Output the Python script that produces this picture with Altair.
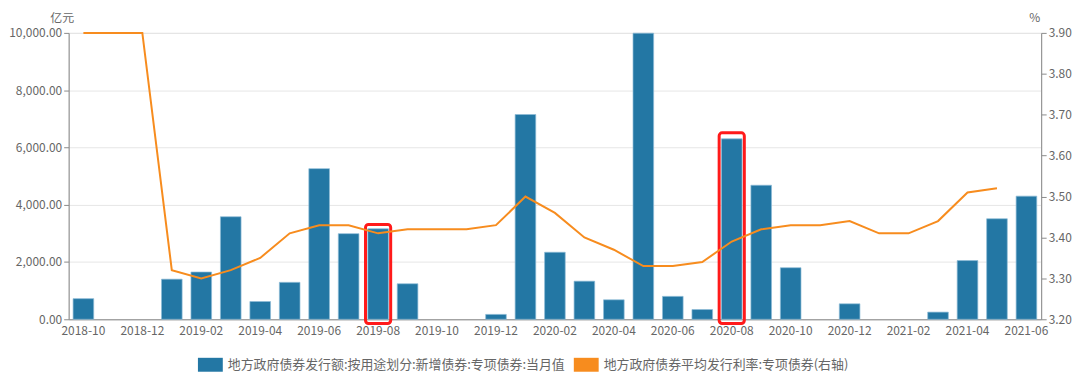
import altair as alt
import pandas as pd

months = ["2018-10", "2018-11", "2018-12", "2019-01", "2019-02", "2019-03", "2019-04",
          "2019-05", "2019-06", "2019-07", "2019-08", "2019-09", "2019-10", "2019-11",
          "2019-12", "2020-01", "2020-02", "2020-03", "2020-04", "2020-05", "2020-06",
          "2020-07", "2020-08", "2020-09", "2020-10", "2020-11", "2020-12", "2021-01",
          "2021-02", "2021-03", "2021-04", "2021-05", "2021-06"]
issuance = [720, 0, 0, 1400, 1650, 3580, 620, 1290, 5260, 2990, 3160, 1240, 0, 0,
            170, 7150, 2340, 1330, 680, 9990, 800, 340, 6300, 4680, 1800, 0, 540, 0,
            0, 250, 2050, 3510, 4300]
rate = [3.90, 3.90, 3.90, 3.32, 3.30, 3.32, 3.35, 3.41, 3.43, 3.43, 3.41, 3.42, 3.42, 3.42,
        3.43, 3.50, 3.46, 3.40, 3.37, 3.33, 3.33, 3.34, 3.39, 3.42, 3.43, 3.43, 3.44, 3.41,
        3.41, 3.44, 3.51, 3.52, None]
x_tick_labels = months[::2]
left_ticks = [0, 2000, 4000, 6000, 8000, 10000]
right_ticks = [3.2, 3.3, 3.4, 3.5, 3.6, 3.7, 3.8, 3.9]

series_names = ["地方政府债券发行额:按用途划分:新增债券:专项债券:当月值",
                "地方政府债券平均发行利率:专项债券(右轴)"]
series_colors = ["#2377a4", "#f78c1e"]

highlight_months = ["2019-08", "2020-08"]
highlight_top = [3310, 6510]
highlight_low = [-150, -150]

FONT = "Noto Sans CJK SC"
AXIS_GRAY = "#8a8a8a"
TEXT_GRAY = "#666666"

df = pd.DataFrame({"month": months, "issuance": issuance, "rate": rate})
df["s1"] = series_names[0]
df["s2"] = series_names[1]
df_box = pd.DataFrame({"month": highlight_months, "issuance": highlight_top, "low": highlight_low})

x_enc = alt.X(
    "month:O",
    scale=alt.Scale(domain=months, paddingInner=0.3, paddingOuter=0.15),
    axis=alt.Axis(values=x_tick_labels, labelAngle=0, title=None, ticks=False,
                  domainColor=AXIS_GRAY, labelColor=TEXT_GRAY, labelFontSize=12,
                  labelPadding=6, labelFont=FONT),
)

color_scale = alt.Scale(domain=series_names, range=series_colors)
legend = alt.Legend(
    title=None, orient="none", direction="horizontal", legendX=130, legendY=321,
    symbolType="M-1,-0.56L1,-0.56L1,0.56L-1,0.56Z", symbolSize=625,
    symbolStrokeWidth=0, symbolOpacity=1, labelFontSize=13, labelFont=FONT,
    labelColor=TEXT_GRAY, labelLimit=1000, columnPadding=8, labelOffset=5,
)

bars = alt.Chart(df).transform_filter("datum.issuance > 0").mark_bar(
    stroke="#8dbbd6", strokeWidth=1, strokeOpacity=0.7
).encode(
    x=x_enc,
    y=alt.Y("issuance:Q",
            scale=alt.Scale(domain=[0, 10000], nice=False, zero=True),
            axis=alt.Axis(values=left_ticks, format=",.2f", title="亿元", titleAngle=0,
                          titleX=-7, titleY=-8, titleAlign="center", titleBaseline="bottom",
                          titleFontWeight="normal", titleFontSize=12, titleColor=TEXT_GRAY,
                          titleFont=FONT, labelFont=FONT, labelFontSize=12,
                          labelColor=TEXT_GRAY, labelPadding=2, tickSize=5,
                          tickColor=AXIS_GRAY, domainColor=AXIS_GRAY,
                          grid=True, gridColor="#e6e6e6")),
    color=alt.Color("s1:N", scale=color_scale, legend=legend),
)

boxes = alt.Chart(df_box).mark_bar(
    fillOpacity=0, stroke="#ff1a1a", strokeWidth=3, cornerRadius=3,
    width=alt.RelativeBandSize(1.22)
).encode(
    x=alt.X("month:O"),
    y=alt.Y("issuance:Q"),
    y2="low:Q",
)

line = alt.Chart(df).mark_line(strokeWidth=2).encode(
    x=alt.X("month:O"),
    y=alt.Y("rate:Q",
            scale=alt.Scale(domain=[3.2, 3.9], nice=False, zero=False),
            axis=alt.Axis(orient="right", values=right_ticks, format=".2f", title="%",
                          titleAngle=0, titleX=-7, titleY=-8, titleAlign="center",
                          titleBaseline="bottom", titleFontWeight="normal", titleFontSize=12,
                          titleColor=TEXT_GRAY, titleFont=FONT, labelFont=FONT,
                          labelFontSize=12, labelColor=TEXT_GRAY, labelPadding=2,
                          tickSize=5, tickColor=AXIS_GRAY, domainColor=AXIS_GRAY,
                          grid=False)),
    color=alt.Color("s2:N", scale=color_scale, legend=legend),
)

chart = alt.layer(alt.layer(bars, boxes), line).resolve_scale(
    y="independent"
).properties(
    width=978, height=288, padding={"left": 0, "right": 0, "top": 3, "bottom": 0}
).configure_view(stroke=None).configure(background="white")

chart.save("out.html", embed_options={"renderer": "svg", "actions": False})
